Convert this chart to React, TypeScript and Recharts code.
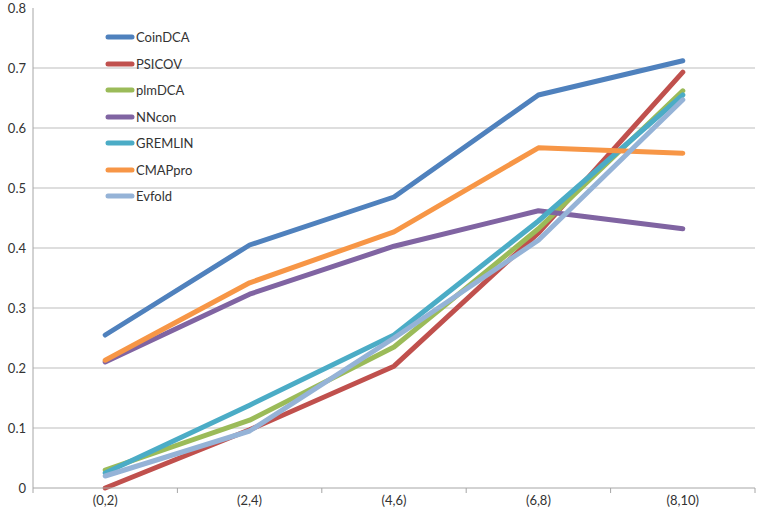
import React from 'react';
import { LineChart, Line, CartesianGrid, XAxis, YAxis } from 'recharts';

// bins along the x axis
const categories = ['(0,2)', '(2,4)', '(4,6)', '(6,8)', '(8,10)'];

// series values
const coinDCA = [0.255, 0.405, 0.485, 0.655, 0.712];
const psicov = [0.0, 0.097, 0.203, 0.425, 0.693];
const plmDCA = [0.03, 0.113, 0.235, 0.432, 0.662];
const nnCon = [0.21, 0.323, 0.403, 0.462, 0.432];
const gremlin = [0.025, 0.138, 0.255, 0.445, 0.655];
const cmapPro = [0.213, 0.342, 0.427, 0.567, 0.558];
const evfold = [0.02, 0.095, 0.25, 0.413, 0.647];

const yTicks = [0, 0.1, 0.2, 0.3, 0.4, 0.5, 0.6, 0.7, 0.8];
const gridValues = [0.1, 0.2, 0.3, 0.4, 0.5, 0.6, 0.7];

const series = [
    { name: 'CoinDCA', values: coinDCA, color: '#4F81BD' },
    { name: 'PSICOV', values: psicov, color: '#C0504D' },
    { name: 'plmDCA', values: plmDCA, color: '#9BBB59' },
    { name: 'NNcon', values: nnCon, color: '#8064A2' },
    { name: 'GREMLIN', values: gremlin, color: '#4BACC6' },
    { name: 'CMAPpro', values: cmapPro, color: '#F79646' },
    { name: 'Evfold', values: evfold, color: '#95B3D7' },
];

// each category sits in the middle of its band: x = index + 0.5
const data = categories.map((cat, i) => {
    const row: Record<string, any> = { x: i + 0.5, cat };
    series.forEach((s) => {
        row[s.name] = s.values[i];
    });
    return row;
});

// band edges get tick marks, band centres get the labels
const xTicks: number[] = [];
for (let i = 0; i <= categories.length; i++) {
    xTicks.push(i);
    if (i < categories.length) xTicks.push(i + 0.5);
}

const FONT = 'Lato, "Open Sans", sans-serif';

const XTick = (props: any) => {
    const { x, y, payload } = props;
    const v = payload.value;
    if (Number.isInteger(v)) {
        return <line x1={x} x2={x} y1={y} y2={y + 5} stroke="#a6a6a6" strokeWidth={1} />;
    }
    return (
        <text x={x} y={y + 17} textAnchor="middle" fontSize={13} fontFamily={FONT} fill="#333">
            {categories[Math.floor(v)]}
        </text>
    );
};

// legend sits inside the plot, top left, like the original
const LegendBox = () => (
    <div
        style={{
            position: 'absolute',
            left: 105,
            top: 24,
            fontFamily: FONT,
            fontSize: 13,
            color: '#333',
        }}
    >
        {series.map((s) => (
            <div key={s.name} style={{ display: 'flex', alignItems: 'center', height: 26.5 }}>
                <svg width={30} height={6} style={{ marginRight: 1 }}>
                    <line x1={3} x2={27} y1={3} y2={3} stroke={s.color} strokeWidth={5} strokeLinecap="round" />
                </svg>
                <span>{s.name}</span>
            </div>
        ))}
    </div>
);

const App = () => {
    return (
        <div style={{ position: 'absolute', left: 0, top: 0, width: 760, height: 516, background: '#fff' }}>
            <LineChart
                width={760}
                height={516}
                data={data}
                margin={{ top: 8, right: 5, bottom: 0, left: 0 }}
            >
                <CartesianGrid
                    vertical={false}
                    stroke="#bdbdbd"
                    horizontalValues={gridValues}
                />
                <XAxis
                    dataKey="x"
                    type="number"
                    domain={[0, categories.length]}
                    ticks={xTicks}
                    interval={0}
                    height={28}
                    tickSize={0}
                    tickMargin={0}
                    tickLine={false}
                    axisLine={{ stroke: '#a6a6a6' }}
                    tick={<XTick />}
                />
                <YAxis
                    domain={[0, 0.8]}
                    ticks={yTicks}
                    interval={0}
                    width={33}
                    tickSize={0}
                    tickMargin={7}
                    tickLine={false}
                    axisLine={{ stroke: '#a6a6a6' }}
                    tick={{ fontSize: 13, fontFamily: FONT, fill: '#333' }}
                    tickFormatter={(v: number) => (v === 0 ? '0' : v.toFixed(1))}
                />
                {series.map((s) => (
                    <Line
                        key={s.name}
                        type="linear"
                        dataKey={s.name}
                        stroke={s.color}
                        strokeWidth={5}
                        strokeLinecap="round"
                        strokeLinejoin="round"
                        dot={false}
                        activeDot={false}
                        isAnimationActive={false}
                    />
                ))}
            </LineChart>
            <LegendBox />
        </div>
    );
};

export default App;
